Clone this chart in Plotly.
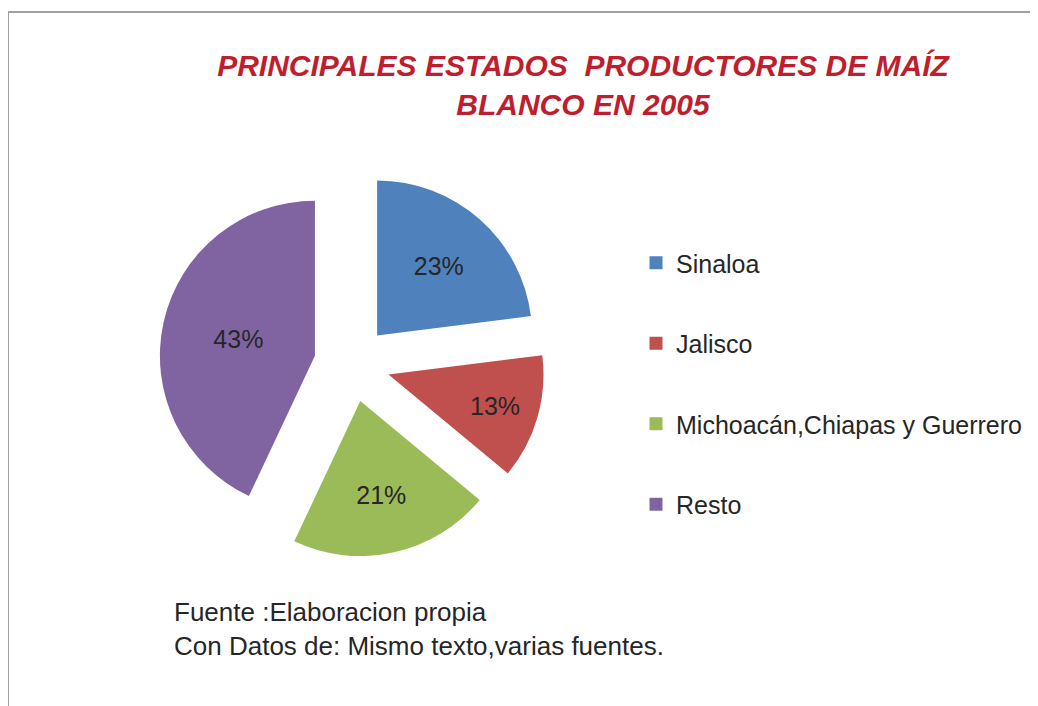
import plotly.graph_objects as go

# Datos del grafico
estados = ["Sinaloa", "Jalisco", "Michoacán,Chiapas y Guerrero", "Resto"]
porcentajes = [23, 13, 21, 43]
colores = ["#4F81BD", "#C0504D", "#9BBB59", "#8064A2"]

W, H = 1038, 706
off = 7  # la pagina deja un margen en el body

fig = go.Figure()

fig.add_trace(go.Pie(
    labels=estados,
    values=porcentajes,
    marker=dict(colors=colores, line=dict(width=0)),
    sort=False,
    direction="clockwise",
    rotation=0,
    pull=[0.245] * len(estados),
    textinfo="percent",
    textposition="inside",
    insidetextorientation="horizontal",
    insidetextfont=dict(family="Liberation Sans, Arial", size=25, color="#262626"),
    domain=dict(x=[(158 - off) / W, (544 - off) / W],
                y=[1 - (556 - off) / H, 1 - (170 - off) / H]),
    showlegend=False,
))

# leyenda con cuadros, un grupo por estado para separar las entradas
for nombre, color in zip(estados, colores):
    fig.add_trace(go.Scatter(
        x=[None], y=[None], mode="markers", name=nombre,
        legendgroup=nombre,
        marker=dict(symbol="square", size=13, color=color),
    ))

fig.update_layout(
    width=W, height=H,
    margin=dict(l=0, r=0, t=0, b=0),
    paper_bgcolor="white",
    plot_bgcolor="white",
    xaxis=dict(visible=False),
    yaxis=dict(visible=False),
    title=dict(
        text="<b><i>PRINCIPALES ESTADOS&nbsp; PRODUCTORES DE MAÍZ<br>BLANCO EN 2005</i></b>",
        x=(582 - off) / W, xanchor="center",
        y=1 - (75 - off) / H, yanchor="middle",
        font=dict(family="Liberation Sans, Arial", size=30, color="#BE1E2D"),
    ),
    legend=dict(
        x=(676 - off - 41) / W, xanchor="left",
        y=1 - (239 - off) / H, yanchor="top",
        font=dict(family="Liberation Sans, Arial", size=25, color="#262626"),
        tracegroupgap=45,
        itemwidth=30,
        bgcolor="rgba(0,0,0,0)",
    ),
    annotations=[dict(
        text="Fuente :Elaboracion propia<br>Con Datos de: Mismo texto,varias fuentes.",
        xref="paper", yref="paper",
        x=(171 - off) / W, xanchor="left",
        y=1 - (628 - off) / H, yanchor="middle",
        align="left", showarrow=False,
        font=dict(family="Liberation Sans, Arial", size=26, color="#262626"),
    )],
    shapes=[dict(
        type="rect", xref="paper", yref="paper",
        x0=0, x1=1.05, y0=-0.05, y1=1 - (11 - off) / H,
        line=dict(color="#A0A0A0", width=2),
    )],
)

fig.write_html("out.html")
